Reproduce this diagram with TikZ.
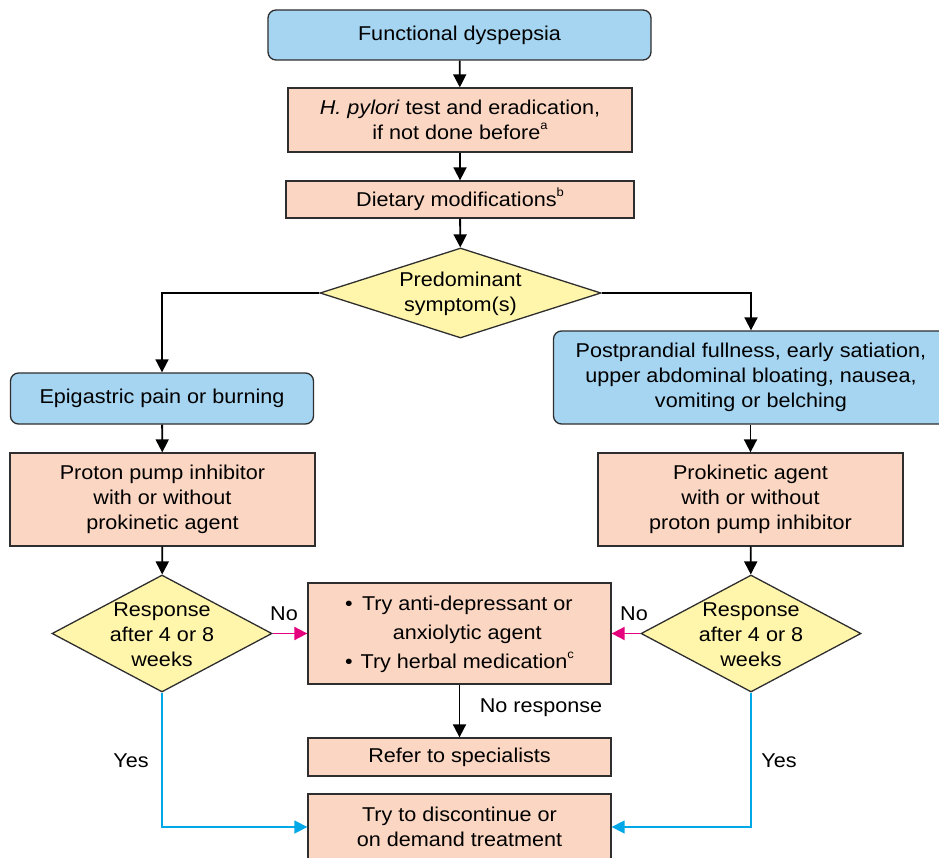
\documentclass[tikz,border=0pt]{standalone}
\usepackage{fontspec}
\setmainfont[FakeStretch=1.08]{Liberation Sans}
\usetikzlibrary{shapes.geometric,arrows.meta}
\definecolor{bluef}{HTML}{A6D5F2}
\definecolor{peach}{HTML}{FBD6C2}
\definecolor{yel}{HTML}{FFF6AC}
\definecolor{edge}{HTML}{2E2E2E}
\definecolor{pinkc}{HTML}{E5007D}
\definecolor{cyanc}{HTML}{00A8E8}
\newcommand{\sups}[1]{\raisebox{0.5em}{\fontsize{12}{12}\selectfont #1}}
\begin{document}
\begin{tikzpicture}[x=1pt,y=-1pt,
  font=\fontsize{20}{25}\selectfont,
  box/.style={draw=edge, line width=1.3pt, fill=peach, align=center, inner sep=0pt},
  bluebox/.style={box, fill=bluef, rounded corners=8pt},
  dia/.style={diamond, draw=edge, line width=1.3pt, fill=yel, inner sep=0pt},
  txt/.style={align=center, inner sep=0pt},
  arr/.style={line width=1.8pt, -{Triangle[length=13pt,width=13pt]}},
  noarr/.style={line width=1.8pt, draw=pinkc, -{Triangle[length=13pt,width=13pt]}},
  yesarr/.style={line width=1.5pt, draw=cyanc, -{Triangle[length=13pt,width=13pt]}}]
\useasboundingbox (0,0) rectangle (939,858);
% boxes
\node[bluebox, minimum width=383pt, minimum height=50pt] (fd) at (459.5,35) {Functional dyspepsia};
\node[box, minimum width=344pt, minimum height=64pt] (hp) at (460,120) {\textit{H. pylori} test and eradication,\\if not done before\sups{a}};
\node[box, minimum width=348pt, minimum height=37pt] (dm) at (460,199.5) {Dietary modifications\sups{b}};
\node[dia, minimum width=281pt, minimum height=90pt] (pd) at (460.5,293) {};
\node[txt] (pdt) at (460.5,294) {Predominant\\symptom(s)};
\node[bluebox, minimum width=303pt, minimum height=51pt] (ep) at (162,398.5) {Epigastric pain or burning};
\node[bluebox, minimum width=395pt, minimum height=93pt] (pp) at (751,377.5) {Postprandial fullness, early satiation,\\upper abdominal bloating, nausea,\\vomiting or belching};
\node[box, minimum width=305pt, minimum height=93pt] (ppi) at (162.5,499.5) {Proton pump inhibitor\\with or without\\prokinetic agent};
\node[box, minimum width=305pt, minimum height=93pt] (pk) at (750.5,499.5) {Prokinetic agent\\with or without\\proton pump inhibitor};
\node[dia, minimum width=220pt, minimum height=117pt] (r1) at (162,633.5) {};
\node[txt] (r1t) at (162,635) {Response\\after 4 or 8\\weeks};
\node[dia, minimum width=220pt, minimum height=117pt] (r2) at (751,633.5) {};
\node[txt] (r2t) at (751,635) {Response\\after 4 or 8\\weeks};
\node[box, minimum width=303pt, minimum height=101pt] (mid) at (459.5,633.5) {\fontsize{20}{29}\selectfont\begin{tabular}{@{}c@{\hspace{8pt}}c@{}}\textbullet & Try anti-depressant or\\ & anxiolytic agent\\ \textbullet & Try herbal medication\sups{c}\end{tabular}};
\node[box, minimum width=303pt, minimum height=38pt] (ref) at (459.5,757) {Refer to specialists};
\node[box, minimum width=303pt, minimum height=66pt] (dis) at (459.5,827) {Try to discontinue or\\on demand treatment};
% connectors
\draw[arr] (fd) -- (hp);
\draw[arr] (hp) -- (dm);
\draw[arr] (dm) -- (pd);
\draw[arr] (pd.west) -| (ep.north);
\draw[arr] (pd.east) -| (pp.north);
\draw[arr] (ep) -- (ppi);
\draw[arr] (pp.south -| pk.north) -- (pk.north);
\draw[arr] (ppi) -- (r1);
\draw[arr] (pk) -- (r2);
\draw[arr] (mid) -- (ref);
\draw[noarr] (r1.east) -- (mid.west);
\draw[noarr] (r2.west) -- (mid.east);
\draw[yesarr] (r1.south) |- (dis.west);
\draw[yesarr] (r2.south) |- (dis.east);
% labels
\node[txt] (no1) at (284,614) {No};
\node[txt] (no2) at (634,614) {No};
\node[txt] (nores) at (541,708) {No response};
\node[txt] (yes1) at (131,761) {Yes};
\node[txt] (yes2) at (779,761) {Yes};
\end{tikzpicture}
\end{document}
